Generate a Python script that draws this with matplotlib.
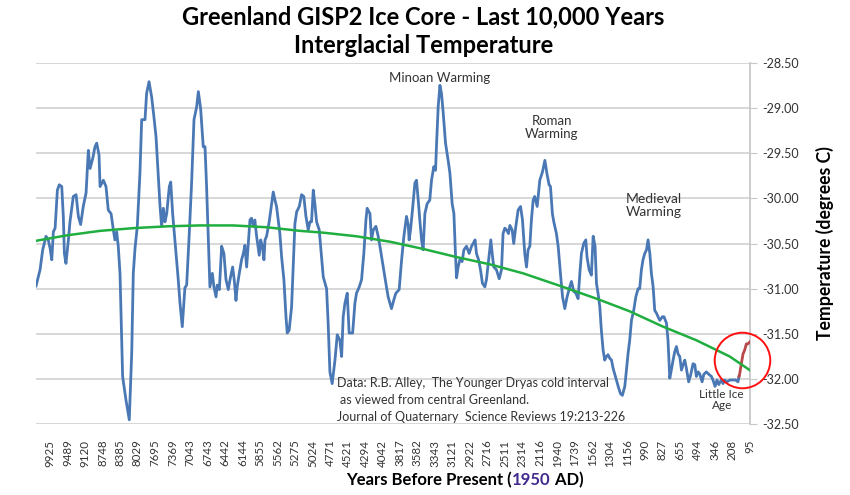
import numpy as np
import matplotlib
matplotlib.use('Agg')
import matplotlib.pyplot as plt
from matplotlib.offsetbox import TextArea, HPacker, AnnotationBbox

plt.rcParams['font.family'] = ['Lato', 'DejaVu Sans']

# category labels on the x axis (years before present)
year_labels = [9925, 9489, 9120, 8748, 8385, 8029, 7695, 7369, 7043, 6743,
               6442, 6144, 5855, 5562, 5275, 5024, 4771, 4521, 4294, 4042,
               3817, 3582, 3343, 3121, 2922, 2716, 2511, 2314, 2116, 1940,
               1739, 1562, 1304, 1156, 990, 827, 655, 494, 346, 208, 95]

# position along the category axis (0 = 9925 ... 40 = 95)
pos = [
    # 9925 - 5275
    -0.80, -0.57, -0.42, -0.23, -0.10, 0.00, 0.10, 0.19, 0.29, 0.42,
    0.53, 0.67, 0.76, 0.82, 0.91, 1.05, 1.14, 1.33, 1.49, 1.62,
    1.75, 1.90, 2.06, 2.19, 2.29, 2.44, 2.57, 2.67, 2.80, 2.86,
    3.05, 3.20, 3.33, 3.49, 3.62, 3.71, 3.81, 3.90, 4.00, 4.15,
    4.34, 4.53, 4.67, 4.76, 4.86, 4.99, 5.14, 5.24, 5.43, 5.52,
    5.66, 5.81, 5.94, 6.06, 6.19, 6.29, 6.38, 6.48, 6.57, 6.67,
    6.82, 6.90, 7.01, 7.20, 7.33, 7.43, 7.56, 7.71, 7.81, 7.96,
    8.10, 8.23, 8.38, 8.48, 8.61, 8.76, 8.86, 8.95, 9.14, 9.28,
    9.37, 9.49, 9.56, 9.68, 9.81, 9.94, 10.06, 10.19, 10.29, 10.44,
    10.53, 10.63, 10.70, 10.82, 10.95, 11.05, 11.14, 11.24, 11.33, 11.43,
    11.52, 11.62, 11.71, 11.81, 11.96, 12.04, 12.13, 12.23, 12.29, 12.38,
    12.53, 12.67, 12.76, 12.86, 12.95, 13.14, 13.24, 13.37, 13.49, 13.56,
    13.67, 13.81, 13.90, 14.00, 14.10, 14.25,
    # 5275 - 2116
    14.38, 14.51, 14.63, 14.76, 14.86, 14.95, 15.05, 15.14, 15.24, 15.39,
    15.52, 15.62, 15.81, 15.90, 16.00, 16.13, 16.29, 16.42, 16.57, 16.67,
    16.76, 16.86, 16.99, 17.10, 17.30, 17.43, 17.52, 17.68, 17.81, 17.94,
    18.06, 18.13, 18.29, 18.38, 18.48, 18.63, 18.76, 18.86, 19.05, 19.20,
    19.33, 19.52, 19.66, 19.77, 19.96, 20.10, 20.23, 20.38, 20.48, 20.53,
    20.61, 20.72, 20.86, 20.95, 21.05, 21.14, 21.24, 21.33, 21.43, 21.56,
    21.71, 21.81, 21.94, 22.04, 22.10, 22.19, 22.29, 22.38, 22.48, 22.61,
    22.76, 22.86, 22.99, 23.09, 23.16, 23.24, 23.33, 23.43, 23.56, 23.66,
    23.81, 23.96, 24.10, 24.19, 24.30, 24.38, 24.50, 24.61, 24.72, 24.86,
    24.95, 25.09, 25.20, 25.30, 25.37, 25.52, 25.68, 25.81, 25.90, 26.00,
    26.10, 26.21, 26.29, 26.42, 26.51, 26.63, 26.76, 26.90, 27.01, 27.14,
    27.24, 27.33, 27.43, 27.52, 27.62, 27.71, 27.85, 28.00,
    # 2116 - 208
    28.15, 28.29, 28.42, 28.53, 28.61, 28.72, 28.80, 28.95, 29.05, 29.18,
    29.30, 29.43, 29.56, 29.71, 29.81, 29.94, 30.06, 30.19, 30.29, 30.38,
    30.51, 30.63, 30.70, 30.82, 30.95, 31.05, 31.16, 31.24, 31.33, 31.43,
    31.52, 31.62, 31.71, 31.81, 31.90, 32.00, 32.10, 32.19, 32.32, 32.48,
    32.61, 32.72, 32.86, 32.95, 33.05, 33.14, 33.24, 33.37, 33.49, 33.62,
    33.71, 33.81, 33.90, 34.00, 34.10, 34.19, 34.29, 34.38, 34.48, 34.57,
    34.67, 34.76, 34.86, 35.01, 35.10, 35.24, 35.33, 35.43, 35.52, 35.62,
    35.71, 35.81, 35.90, 36.00, 36.10, 36.19, 36.29, 36.38, 36.51, 36.63,
    36.76, 36.86, 36.95, 37.05, 37.14, 37.28, 37.37, 37.52, 37.68, 37.81,
    37.90, 38.02, 38.13, 38.23, 38.38, 38.48, 38.57, 38.70, 38.86, 39.05,
    39.20, 39.33, 39.39,
]

temp = [
    -30.97, -30.79, -30.57, -30.42, -30.46, -30.55, -30.68, -30.37, -30.33, -29.91,
    -29.85, -29.87, -30.20, -30.61, -30.72, -30.46, -30.26, -29.98, -29.96, -30.20,
    -30.29, -30.09, -29.94, -29.47, -29.67, -29.56, -29.43, -29.39, -29.52, -29.87,
    -29.80, -29.87, -30.13, -30.17, -30.35, -30.46, -30.37, -30.53, -30.83, -31.97,
    -32.23, -32.45, -31.71, -30.83, -30.55, -30.31, -29.72, -29.13, -29.13, -28.84,
    -28.71, -28.88, -29.10, -29.32, -29.76, -30.09, -30.31, -30.11, -30.26, -30.17,
    -29.87, -29.82, -30.17, -30.61, -30.90, -31.16, -31.42, -30.99, -30.96, -30.39,
    -29.80, -29.13, -28.99, -28.82, -29.01, -29.43, -29.43, -29.87, -30.98, -30.83,
    -30.98, -31.09, -30.96, -31.01, -30.53, -30.61, -30.90, -31.01, -30.90, -30.76,
    -30.90, -31.13, -30.98, -30.83, -30.68, -30.61, -30.52, -30.76, -30.52, -30.24,
    -30.22, -30.31, -30.24, -30.42, -30.63, -30.46, -30.52, -30.68, -30.46, -30.42,
    -30.26, -30.06, -29.93, -30.02, -30.09, -30.39, -30.65, -30.90, -31.31, -31.49,
    -31.46, -31.20, -30.76, -30.28, -30.15, -30.09,
    -29.96, -29.98, -30.20, -30.35, -30.26, -30.26, -29.91, -30.06, -30.26, -30.35,
    -30.65, -30.87, -31.00, -31.38, -31.92, -32.05, -31.79, -31.51, -31.57, -31.75,
    -31.31, -31.16, -31.05, -31.49, -31.49, -31.16, -31.05, -30.98, -30.90, -30.61,
    -30.24, -30.11, -30.17, -30.46, -30.35, -30.31, -30.42, -30.53, -30.76, -30.94,
    -31.09, -31.22, -31.12, -31.05, -31.01, -30.68, -30.42, -30.20, -30.30, -30.46,
    -30.35, -30.13, -29.83, -29.80, -30.02, -30.24, -30.46, -30.57, -30.17, -30.06,
    -30.02, -29.80, -29.65, -29.69, -29.39, -28.99, -28.75, -28.84, -29.06, -29.39,
    -29.58, -29.72, -30.06, -30.17, -30.53, -30.88, -30.76, -30.68, -30.70, -30.57,
    -30.53, -30.61, -30.53, -30.50, -30.46, -30.61, -30.68, -30.79, -30.94, -30.98,
    -30.90, -30.65, -30.46, -30.65, -30.76, -30.79, -30.89, -30.79, -30.39, -30.33,
    -30.35, -30.39, -30.30, -30.35, -30.50, -30.31, -30.13, -30.09, -30.24, -30.61,
    -30.76, -30.57, -30.53, -30.24, -30.02, -29.98, -30.09, -29.80,
    -29.71, -29.58, -29.74, -29.85, -29.87, -30.17, -30.26, -30.39, -30.53, -30.83,
    -31.09, -31.22, -31.09, -30.98, -30.92, -31.03, -31.05, -31.11, -30.83, -30.61,
    -30.50, -30.46, -30.65, -30.79, -30.85, -30.42, -30.53, -30.94, -31.05, -31.20,
    -31.46, -31.68, -31.79, -31.75, -31.73, -31.77, -31.79, -31.88, -31.97, -32.08,
    -32.16, -32.18, -32.08, -31.90, -31.71, -31.57, -31.35, -31.24, -31.09, -31.00,
    -31.00, -30.79, -30.68, -30.61, -30.57, -30.46, -30.61, -30.83, -30.98, -31.24,
    -31.27, -31.31, -31.35, -31.31, -31.31, -31.38, -31.57, -31.99, -31.90, -31.79,
    -31.70, -31.64, -31.72, -31.75, -31.90, -31.84, -31.79, -31.88, -32.03, -31.95,
    -31.83, -31.84, -31.97, -31.92, -31.94, -32.03, -31.95, -31.92, -31.95, -31.97,
    -32.01, -32.08, -32.01, -32.06, -32.01, -32.05, -32.01, -32.03, -32.01, -32.01,
    -32.01, -32.03, -31.97,
]

# recent warming (red part at the end)
recent_pos = [39.39, 39.43, 39.52, 39.62, 39.71, 39.81, 39.90, 40.00]
recent_temp = [-31.97, -31.94, -31.83, -31.72, -31.68, -31.61, -31.61, -31.59]

# polynomial trend line (green)
trend_pos = [-0.80, 0.95, 2.86, 4.76, 6.67, 8.57, 10.48, 12.38, 14.29, 15.62,
             17.52, 19.43, 21.33, 23.24, 25.14, 27.05, 29.33, 31.24, 33.14,
             35.05, 36.95, 38.86, 40.00]
trend_temp = [-30.47, -30.41, -30.36, -30.33, -30.31, -30.30, -30.30, -30.32,
              -30.36, -30.38, -30.42, -30.48, -30.56, -30.65, -30.73, -30.83,
              -30.98, -31.11, -31.25, -31.42, -31.57, -31.75, -31.90]


def main():
    fig = plt.figure(figsize=(8.5, 4.95), dpi=100)
    ax = fig.add_axes([0.0424, 0.1428, 0.8396, 0.7305])

    ax.plot(pos, temp, color='#4a78b5', linewidth=2.0, solid_joinstyle='round', zorder=3)
    ax.plot(recent_pos, recent_temp, color='#b8484a', linewidth=2.0, zorder=3)
    ax.plot(trend_pos, trend_temp, color='#1fae3f', linewidth=1.8, zorder=4)

    # red circle round the recent end
    ax.plot([39.54], [-31.79], marker='o', markersize=40, markerfacecolor='none',
            markeredgecolor='#ff1010', markeredgewidth=1.4, clip_on=False, zorder=5)

    ax.set_xlim(-0.8, 40)
    ax.set_ylim(-32.5, -28.5)
    ax.set_yticks(np.arange(-32.5, -28.49, 0.5))
    ax.set_yticklabels(['%.2f' % v for v in np.arange(-32.5, -28.49, 0.5)])
    ax.yaxis.tick_right()
    ax.yaxis.set_label_position('right')
    ax.tick_params(axis='y', length=5, color='#c8c8c8', pad=4, labelsize=9, labelcolor='#333333')
    ax.set_xticks(range(len(year_labels)))
    ax.set_xticklabels([str(y) for y in year_labels], rotation=90)
    ax.tick_params(axis='x', length=0, pad=11, labelsize=8.3, labelcolor='#333333')

    ax.grid(axis='y', color='#d4d4d4', linewidth=1.3)
    ax.set_axisbelow(True)
    for side in ['top', 'left', 'bottom']:
        ax.spines[side].set_visible(False)
    ax.spines['right'].set_color('#c8c8c8')
    ax.spines['right'].set_linewidth(1.3)

    ax.set_ylabel('Temperature (degrees C)', fontsize=12.7, fontweight='bold', labelpad=12)

    fig.text(0.498, 0.966, 'Greenland GISP2 Ice Core - Last 10,000 Years',
             ha='center', va='center', fontsize=17, fontweight='bold')
    fig.text(0.498, 0.909, 'Interglacial Temperature',
             ha='center', va='center', fontsize=17, fontweight='bold')

    # x label with the year in purple
    bold = dict(fontsize=12, fontweight='bold', color='black')
    parts = [TextArea('Years Before Present (', textprops=bold),
             TextArea('1950', textprops=dict(bold, color='#432a8f')),
             TextArea(' AD)', textprops=bold)]
    box = HPacker(children=parts, align='baseline', pad=0, sep=0)
    fig.add_artist(AnnotationBbox(box, (0.547, 0.030), xycoords='figure fraction',
                                  frameon=False, box_alignment=(0.5, 0.5)))

    note = dict(fontsize=9.5, color='#333333', ha='center', va='center')
    ax.text(22.3, -28.67, 'Minoan Warming', **note)
    ax.text(28.7, -29.22, 'Roman\nWarming', linespacing=1.1, **note)
    ax.text(34.5, -30.08, 'Medieval\nWarming', linespacing=1.1, fontsize=10,
            color='#333333', ha='center', va='center')
    ax.text(38.4, -32.23, 'Little Ice\nAge', linespacing=1.0, fontsize=8.5,
            color='#333333', ha='center', va='center')

    src = dict(fontsize=9, color='#333333', ha='left', va='center')
    ax.text(16.4, -32.04, 'Data: R.B. Alley,  The Younger Dryas cold interval', **src)
    ax.text(16.6, -32.23, 'as viewed from central Greenland.', **src)
    ax.text(16.4, -32.42, 'Journal of Quaternary  Science Reviews 19:213-226', **src)

    fig.savefig('out.png', dpi=100)


if __name__ == '__main__':
    assert len(pos) == len(temp)
    main()
